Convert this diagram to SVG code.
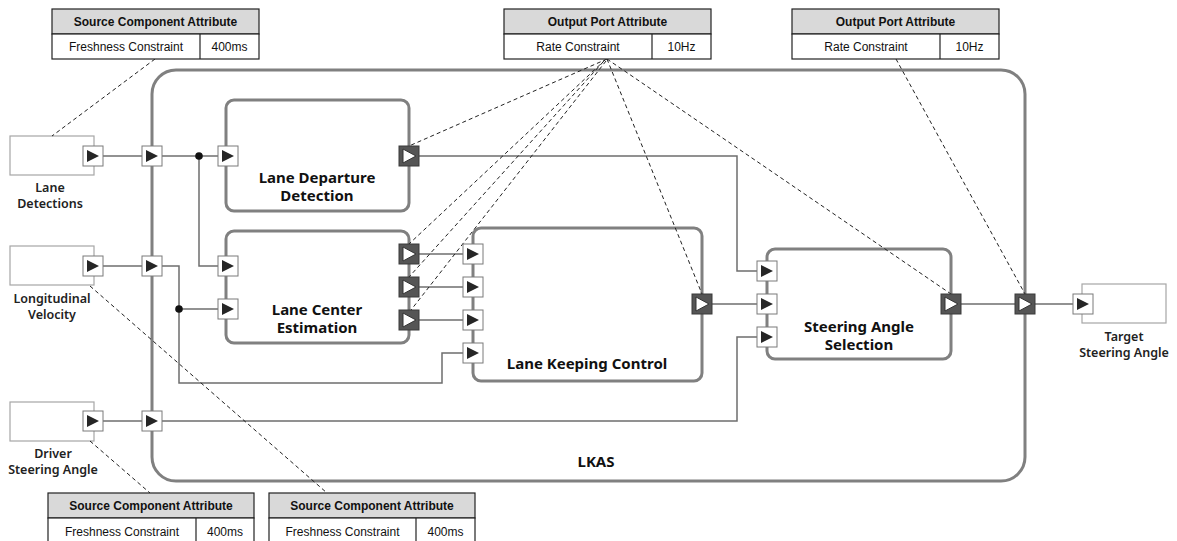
<svg xmlns="http://www.w3.org/2000/svg" width="1177" height="541" viewBox="0 0 1177 541">
<defs>
<style>
.tbl{fill:#fff;stroke:#222;stroke-width:1.2}
.hdr{fill:#d9d9d9;stroke:#222;stroke-width:1.2}
.ht{font-family:"Liberation Sans",Arial,sans-serif;font-size:12px;font-weight:bold;fill:#111;text-anchor:middle}
.rt{font-family:"Liberation Sans",Arial,sans-serif;font-size:12px;fill:#111;text-anchor:middle}
.comp{fill:#fff;stroke:#808080;stroke-width:3}
.title{font-family:"Noto Sans","DejaVu Sans",sans-serif;font-size:15px;font-weight:bold;fill:#111;text-anchor:middle}
.lbl{font-family:"Noto Sans","DejaVu Sans",sans-serif;font-size:12.5px;font-weight:600;fill:#222;text-anchor:middle}
.src{fill:#fff;stroke:#a6a6a6;stroke-width:1.2}
.wire{fill:none;stroke:#6e6e6e;stroke-width:1.5}
.dash{fill:none;stroke:#222;stroke-width:1;stroke-dasharray:4,3}
.pin{fill:#fff;stroke:#7a7a7a;stroke-width:1}
.pinT{fill:#262626}
.pout{fill:#555;stroke:#3a3a3a;stroke-width:1}
.poutT{fill:#fff;stroke:#333;stroke-width:1}
</style>
<g id="inport">
<rect class="pin" x="-10" y="-10" width="20" height="20"/>
<polygon class="pinT" points="-6,-6 6,0 -6,6"/>
</g>
<g id="outport">
<rect class="pout" x="-10" y="-10" width="20" height="20"/>
<polygon class="poutT" points="-6,-7 7,0 -6,7"/>
</g>
</defs>
<rect width="1177" height="541" fill="#fff"/>

<g id="lkas">
<rect x="152" y="70" width="873" height="411" rx="24" fill="#fff" stroke="#808080" stroke-width="3"/>
<text class="title" x="596" y="467" font-size="14">LKAS</text>
</g>

<g id="lane-departure-detection">
<rect class="comp" x="226" y="100" width="183" height="111" rx="8"/>
<text class="title" x="317" y="183">Lane Departure</text>
<text class="title" x="317" y="201">Detection</text>
</g>
<g id="lane-center-estimation">
<rect class="comp" x="226" y="231" width="183" height="112" rx="8"/>
<text class="title" x="317" y="315">Lane Center</text>
<text class="title" x="317" y="333">Estimation</text>
</g>
<g id="lane-keeping-control">
<rect class="comp" x="473" y="228" width="229" height="153" rx="8"/>
<text class="title" x="587" y="369">Lane Keeping Control</text>
</g>
<g id="steering-angle-selection">
<rect class="comp" x="767" y="249" width="184" height="110" rx="8"/>
<text class="title" x="859" y="332">Steering Angle</text>
<text class="title" x="859" y="350">Selection</text>
</g>

<g id="lane-detections">
<rect class="src" x="10" y="136" width="84" height="39"/>
<text class="lbl" x="50" y="192">Lane</text>
<text class="lbl" x="50" y="208">Detections</text>
</g>
<g id="longitudinal-velocity">
<rect class="src" x="10" y="246" width="84" height="39"/>
<text class="lbl" x="52" y="303">Longitudinal</text>
<text class="lbl" x="52" y="319">Velocity</text>
</g>
<g id="driver-steering-angle">
<rect class="src" x="10" y="402" width="84" height="39"/>
<text class="lbl" x="53" y="458">Driver</text>
<text class="lbl" x="53" y="474">Steering Angle</text>
</g>
<g id="target-steering-angle">
<rect class="src" x="1082" y="284" width="84" height="39"/>
<text class="lbl" x="1124" y="341">Target</text>
<text class="lbl" x="1124" y="357">Steering Angle</text>
</g>

<g id="connectors">
<path class="wire" d="M103,156 H142"/>
<path class="wire" d="M162,156 H218"/>
<path class="wire" d="M199,156 V266 H218"/>
<path class="wire" d="M103,266 H142"/>
<path class="wire" d="M162,266 H179 V383 H442 V353 H463"/>
<path class="wire" d="M179,309 H218"/>
<path class="wire" d="M103,421 H142"/>
<path class="wire" d="M162,421 H737 V337 H757"/>
<path class="wire" d="M419,156 H737 V271 H757"/>
<path class="wire" d="M419,254 H463"/>
<path class="wire" d="M419,287 H463"/>
<path class="wire" d="M419,320 H463"/>
<path class="wire" d="M712,304 H757"/>
<path class="wire" d="M961,304 H1015"/>
<path class="wire" d="M1035,304 H1073"/>
<circle cx="199" cy="156" r="3.8" fill="#111"/>
<circle cx="179" cy="309" r="3.8" fill="#111"/>
<path class="dash" d="M155,59 L52,136"/>
<path class="dash" d="M90,441 L150,493"/>
<path class="dash" d="M90,286 L327,493"/>
<path class="dash" d="M607,59 L409,146"/>
<path class="dash" d="M605,60 L409,244"/>
<path class="dash" d="M603,62 L409,277"/>
<path class="dash" d="M606,61 L411,310"/>
<path class="dash" d="M607,59 L702,294"/>
<path class="dash" d="M607,59 L951,294"/>
<path class="dash" d="M896,59 L1025,294"/>
</g>

<g id="ports">
<use href="#inport" x="93" y="156"/>
<use href="#inport" x="93" y="266"/>
<use href="#inport" x="93" y="421"/>
<use href="#inport" x="152" y="156"/>
<use href="#inport" x="152" y="266"/>
<use href="#inport" x="152" y="421"/>
<use href="#inport" x="228" y="156"/>
<use href="#inport" x="228" y="266"/>
<use href="#inport" x="228" y="309"/>
<use href="#outport" x="409" y="156"/>
<use href="#outport" x="409" y="254"/>
<use href="#outport" x="409" y="287"/>
<use href="#outport" x="409" y="320"/>
<use href="#inport" x="473" y="254"/>
<use href="#inport" x="473" y="287"/>
<use href="#inport" x="473" y="320"/>
<use href="#inport" x="473" y="353"/>
<use href="#outport" x="702" y="304"/>
<use href="#inport" x="767" y="271"/>
<use href="#inport" x="767" y="304"/>
<use href="#inport" x="767" y="337"/>
<use href="#outport" x="951" y="304"/>
<use href="#outport" x="1025" y="304"/>
<use href="#inport" x="1083" y="304"/>
</g>

<g id="attr-lane-detections">
<rect class="hdr" x="52" y="9" width="207" height="25"/>
<rect class="tbl" x="52" y="34" width="207" height="25"/>
<line x1="200" y1="34" x2="200" y2="59" stroke="#222" stroke-width="1.2"/>
<text class="ht" x="155.5" y="26">Source Component Attribute</text>
<text class="rt" x="126" y="51">Freshness Constraint</text>
<text class="rt" x="229.5" y="51">400ms</text>
</g>
<g id="attr-output-port-1">
<rect class="hdr" x="504" y="9" width="207" height="25"/>
<rect class="tbl" x="504" y="34" width="207" height="25"/>
<line x1="652" y1="34" x2="652" y2="59" stroke="#222" stroke-width="1.2"/>
<text class="ht" x="607.5" y="26">Output Port Attribute</text>
<text class="rt" x="578" y="51">Rate Constraint</text>
<text class="rt" x="681.5" y="51">10Hz</text>
</g>
<g id="attr-output-port-2">
<rect class="hdr" x="792" y="9" width="207" height="25"/>
<rect class="tbl" x="792" y="34" width="207" height="25"/>
<line x1="940" y1="34" x2="940" y2="59" stroke="#222" stroke-width="1.2"/>
<text class="ht" x="895.5" y="26">Output Port Attribute</text>
<text class="rt" x="866" y="51">Rate Constraint</text>
<text class="rt" x="969.5" y="51">10Hz</text>
</g>
<g id="attr-driver-steering">
<rect class="hdr" x="48" y="493" width="206" height="25"/>
<rect class="tbl" x="48" y="518" width="206" height="25"/>
<line x1="196" y1="518" x2="196" y2="543" stroke="#222" stroke-width="1.2"/>
<text class="ht" x="151" y="510">Source Component Attribute</text>
<text class="rt" x="122" y="536">Freshness Constraint</text>
<text class="rt" x="225" y="536">400ms</text>
</g>
<g id="attr-longitudinal-velocity">
<rect class="hdr" x="269" y="493" width="206" height="25"/>
<rect class="tbl" x="269" y="518" width="206" height="25"/>
<line x1="416" y1="518" x2="416" y2="543" stroke="#222" stroke-width="1.2"/>
<text class="ht" x="372" y="510">Source Component Attribute</text>
<text class="rt" x="342.5" y="536">Freshness Constraint</text>
<text class="rt" x="445.5" y="536">400ms</text>
</g>
</svg>
